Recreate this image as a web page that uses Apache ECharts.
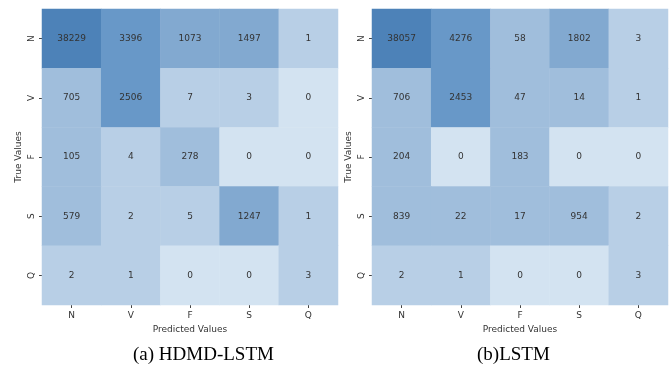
<!DOCTYPE html>
<html>
<head>
<meta charset="utf-8">
<script src="https://cdn.jsdelivr.net/npm/echarts@6/dist/echarts.min.js"></script>
<style>
  html, body { margin: 0; padding: 0; background: #ffffff; }
  #chart { width: 671px; height: 373px; }
</style>
</head>
<body>
<div id="chart"></div>
<script>
// Class labels shared by both confusion matrices
const classes = ['N', 'V', 'F', 'S', 'Q'];

// Rows = true class, columns = predicted class
const hdmdLstm = [
  [38229, 3396, 1073, 1497, 1],
  [705, 2506, 7, 3, 0],
  [105, 4, 278, 0, 0],
  [579, 2, 5, 1247, 1],
  [2, 1, 0, 0, 3]
];
const lstm = [
  [38057, 4276, 58, 1802, 3],
  [706, 2453, 47, 14, 1],
  [204, 0, 183, 0, 0],
  [839, 22, 17, 954, 2],
  [2, 1, 0, 0, 3]
];

const captions = ['(a) HDMD-LSTM', '(b)LSTM'];
const xTitle = 'Predicted Values';
const yTitle = 'True Values';

function toCells(matrix) {
  const out = [];
  matrix.forEach((row, r) => row.forEach((v, c) => out.push([c, r, v])));
  return out;
}

const tickFont = { fontFamily: 'DejaVu Sans', fontSize: 9, color: '#333333' };
const grids = [
  { left: 42, top: 9, width: 296, height: 296 },
  { left: 372, top: 9, width: 296, height: 296 }
];

const chart = echarts.init(document.getElementById('chart'), null, { renderer: 'canvas' });
chart.setOption({
  animation: false,
  grid: grids,
  xAxis: grids.map((g, i) => ({
    type: 'category', gridIndex: i, data: classes,
    name: xTitle, nameLocation: 'middle', nameGap: 19,
    nameTextStyle: { fontFamily: 'DejaVu Sans', fontSize: 9, color: '#333333' },
    axisLine: { show: false },
    axisTick: { show: true, alignWithLabel: true, length: 3, lineStyle: { color: '#444444' } },
    axisLabel: Object.assign({ margin: 6 }, tickFont),
    splitLine: { show: false }
  })),
  yAxis: grids.map((g, i) => ({
    type: 'category', gridIndex: i, data: classes, inverse: true,
    name: yTitle, nameLocation: 'middle', nameGap: 19, nameRotate: 90,
    nameTextStyle: { fontFamily: 'DejaVu Sans', fontSize: 9, color: '#333333' },
    axisLine: { show: false },
    axisTick: { show: true, alignWithLabel: true, length: 3, lineStyle: { color: '#444444' } },
    axisLabel: Object.assign({ margin: 6, rotate: 90 }, tickFont),
    splitLine: { show: false }
  })),
  visualMap: {
    type: 'piecewise', show: false, seriesIndex: [0, 1], dimension: 2,
    pieces: [
      { value: 0, color: '#d3e3f1' },
      { min: 1, max: 9, color: '#b8cfe6' },
      { min: 10, max: 999, color: '#a0bedc' },
      { min: 1000, max: 1999, color: '#82a9d0' },
      { min: 2000, max: 9999, color: '#6898c8' },
      { min: 10000, color: '#4d82b8' }
    ]
  },
  series: [hdmdLstm, lstm].map((m, i) => ({
    type: 'heatmap', xAxisIndex: i, yAxisIndex: i,
    data: toCells(m),
    label: {
      show: true, formatter: p => String(p.value[2]),
      fontFamily: 'DejaVu Sans', fontSize: 9, color: '#333333'
    },
    itemStyle: { borderWidth: 0 },
    emphasis: { disabled: true }
  })),
  graphic: captions.map((t, i) => ({
    type: 'text',
    left: i === 0 ? 133 : 477,
    top: 346,
    style: { text: t, font: '19px "Liberation Serif"', fill: '#000000' }
  }))
});
</script>
</body>
</html>
